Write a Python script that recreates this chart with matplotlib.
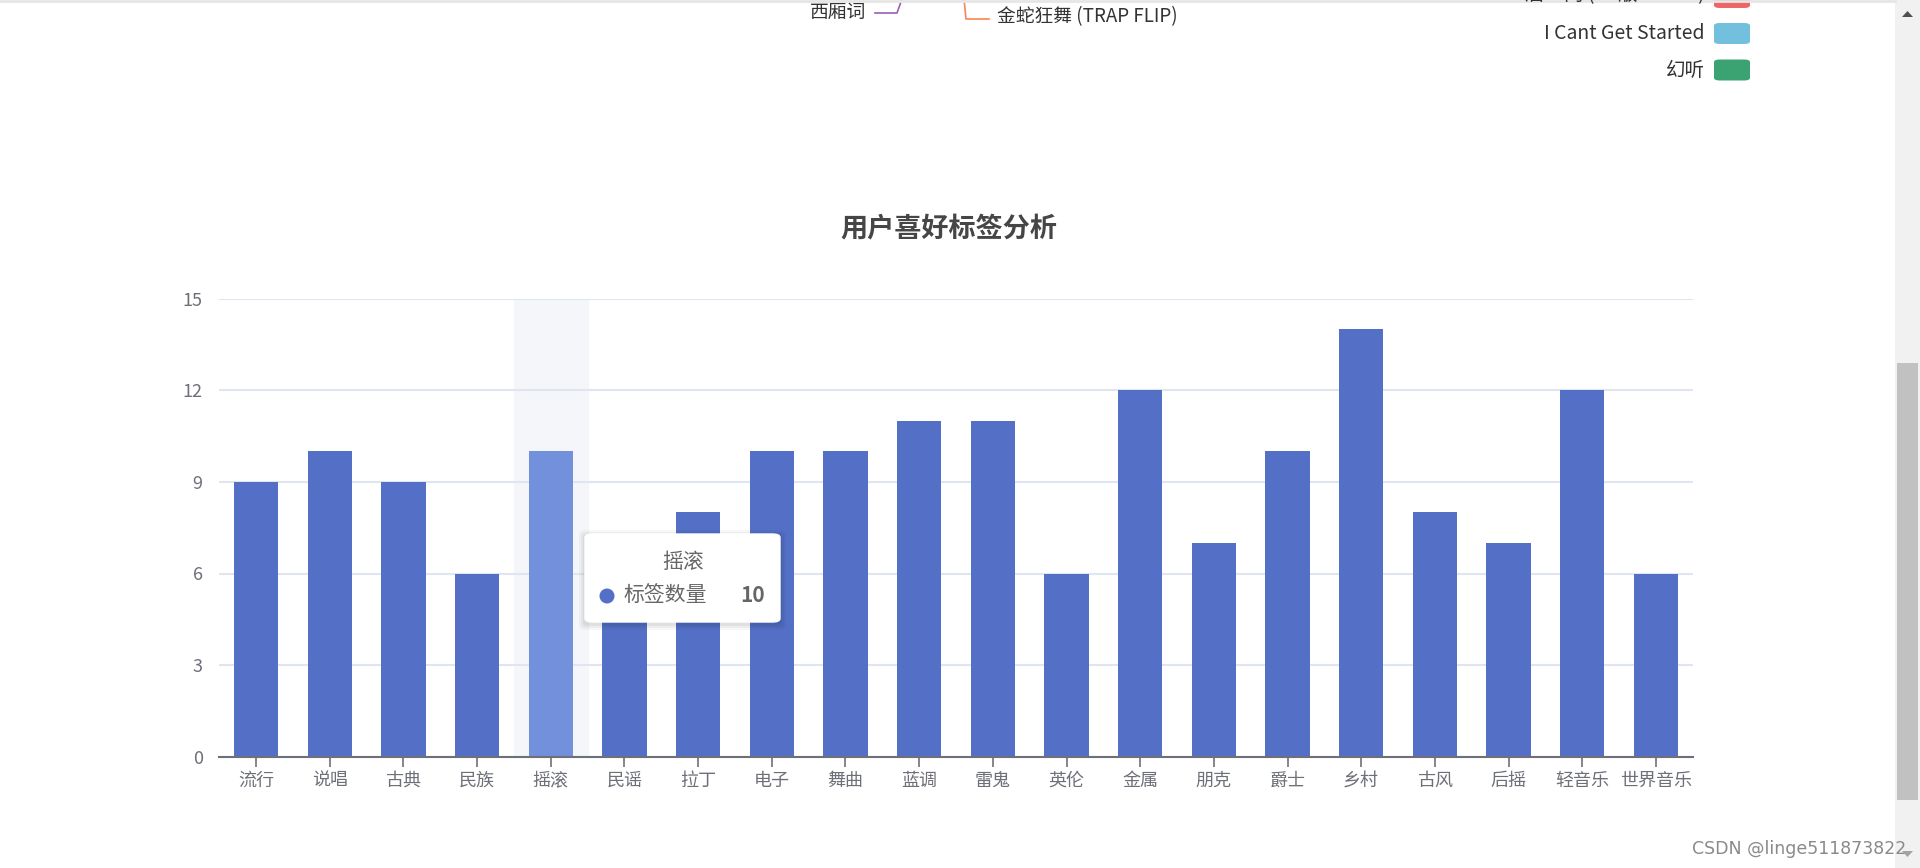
import matplotlib
matplotlib.use("Agg")
import matplotlib.pyplot as plt
from matplotlib.patches import FancyBboxPatch, Rectangle, Ellipse, Polygon
from matplotlib.lines import Line2D

plt.rcParams['font.family'] = ['Noto Sans CJK SC', 'DejaVu Sans']

categories = ['流行', '说唱', '古典', '民族', '摇滚', '民谣', '拉丁', '电子', '舞曲', '蓝调',
              '雷鬼', '英伦', '金属', '朋克', '爵士', '乡村', '古风', '后摇', '轻音乐', '世界音乐']
counts = [9, 10, 9, 6, 10, 7, 8, 10, 10, 11, 11, 6, 12, 7, 10, 14, 8, 7, 12, 6]
y_ticks = [0, 3, 6, 9, 12, 15]
series_name = '标签数量'
title = '用户喜好标签分析'
hover_idx = 4

legend_labels = ['I Cant Get Started', '幻听']
legend_colors = ['#73c0de', '#3ba272']

W, H = 1920, 868
fig = plt.figure(figsize=(W / 100, H / 100), dpi=100)
fig.patch.set_facecolor('white')


def fx(x):
    return x / W


def fy(y):
    return 1 - y / H


ax = fig.add_axes([219.3 / W, (H - 756.7) / H, 1473.4 / W, 458 / H])
x = list(range(len(categories)))
colors = ['#7390dc' if i == hover_idx else '#5470c6' for i in x]
ax.axvspan(hover_idx - 0.5, hover_idx + 0.5, color='#f5f6fa', zorder=0)
ax.bar(x, counts, width=0.6, color=colors, zorder=2)

ax.set_xlim(-0.5, len(categories) - 0.5)
ax.set_ylim(0, 15)
ax.set_yticks(y_ticks)
ax.set_xticks(x)
ax.set_xticklabels(categories)
ax.grid(axis='y', color='#e0e6f1', linewidth=1.5, zorder=1)
ax.set_axisbelow(True)
for s in ['top', 'right', 'left']:
    ax.spines[s].set_visible(False)
ax.spines['bottom'].set_color('#6e7079')
ax.spines['bottom'].set_linewidth(1.5)
ax.spines['bottom'].set_zorder(3)
ax.tick_params(axis='x', colors='#6e7079', length=7, width=1.2, labelsize=13, pad=4)
ax.tick_params(axis='y', colors='#6e7079', length=0, labelsize=13, pad=12)
ax.set_facecolor('none')

fig.text(fx(949), fy(228), title, ha='center', va='center', fontsize=19.5,
         fontweight='bold', color='#464646')

# tooltip
for k, a in enumerate([0.05, 0.04, 0.03]):
    pad = 2 + k * 2
    fig.patches.append(FancyBboxPatch((fx(585 - pad), fy(622 + pad + 2)),
                                      (195 + 2 * pad) / W, (88 + 2 * pad) / H,
                                      boxstyle='round,pad=0,rounding_size=0.004',
                                      transform=fig.transFigure, facecolor='black',
                                      edgecolor='none', alpha=a, zorder=5))
fig.patches.append(FancyBboxPatch((fx(585), fy(622)), 195 / W, 88 / H,
                                  boxstyle='round,pad=0,rounding_size=0.004',
                                  transform=fig.transFigure, facecolor='white',
                                  edgecolor='white', zorder=6))
fig.text(fx(683), fy(562), categories[hover_idx], ha='center', va='center',
         fontsize=15, color='#666666', zorder=7)
fig.patches.append(Ellipse((fx(607), fy(596)), 15 / W, 15 / H, transform=fig.transFigure,
                           facecolor='#5470c6', edgecolor='none', zorder=7))
fig.text(fx(623), fy(595), series_name, ha='left', va='center', fontsize=15,
         color='#666666', zorder=7)
fig.text(fx(765), fy(595), str(counts[hover_idx]), ha='right', va='center',
         fontsize=15, fontweight='bold', color='#666666', zorder=7)

# remnants of the chart above (pie labels)
fig.text(fx(866), fy(12), '西厢词', ha='right', va='center', fontsize=13.5, color='#333333')
fig.add_artist(Line2D([fx(875), fx(897), fx(902)], [fy(13), fy(13), fy(-1)],
                      color='#9a60b4', linewidth=1.2))
fig.add_artist(Line2D([fx(964), fx(966), fx(989)], [fy(-1), fy(19), fy(19)],
                      color='#fc8452', linewidth=1.2))
fig.text(fx(997), fy(17), '金蛇狂舞 (TRAP FLIP)', ha='left', va='center',
         fontsize=13.5, color='#333333')

# legend of the chart above
fig.text(fx(1705), fy(-5), '眉一两 (DJ版 Remix)', ha='right', va='center',
         fontsize=14, color='#333333')
fig.patches.append(FancyBboxPatch((fx(1714), fy(8)), 36 / W, 20 / H,
                                  boxstyle='round,pad=0,rounding_size=0.003',
                                  transform=fig.transFigure, facecolor='#ee6666',
                                  edgecolor='none'))
for i, (lab, col) in enumerate(zip(legend_labels, legend_colors)):
    yc = 33.5 + i * 36.5
    fig.text(fx(1705), fy(yc), lab, ha='right', va='center', fontsize=14, color='#333333')
    fig.patches.append(FancyBboxPatch((fx(1714), fy(yc + 10.5)), 36 / W, 21 / H,
                                      boxstyle='round,pad=0,rounding_size=0.003',
                                      transform=fig.transFigure, facecolor=col,
                                      edgecolor='none'))

# page top border
fig.add_artist(Line2D([0, fx(1895)], [fy(0.8), fy(0.8)], color='#e6e6e6', linewidth=2))

# scrollbar
fig.patches.append(Rectangle((fx(1895), 0), 25 / W, 1, transform=fig.transFigure,
                             facecolor='#f1f1f1', edgecolor='none'))
fig.patches.append(Rectangle((fx(1897), fy(800)), 21 / W, 437 / H, transform=fig.transFigure,
                             facecolor='#c1c1c1', edgecolor='none'))
fig.patches.append(Polygon([(fx(1902), fy(17)), (fx(1913), fy(17)), (fx(1907.5), fy(11))],
                           closed=True, transform=fig.transFigure,
                           facecolor='#505050', edgecolor='none'))
fig.patches.append(Polygon([(fx(1902), fy(851)), (fx(1913), fy(851)), (fx(1907.5), fy(857))],
                           closed=True, transform=fig.transFigure,
                           facecolor='#a3a3a3', edgecolor='none'))

# watermark
fig.text(fx(1906), fy(849), 'CSDN @linge511873822', ha='right', va='center',
         fontsize=12.5, color='#8a8a8a', family=['Liberation Sans Narrow', 'DejaVu Sans'])

fig.savefig('out.png', dpi=100)
